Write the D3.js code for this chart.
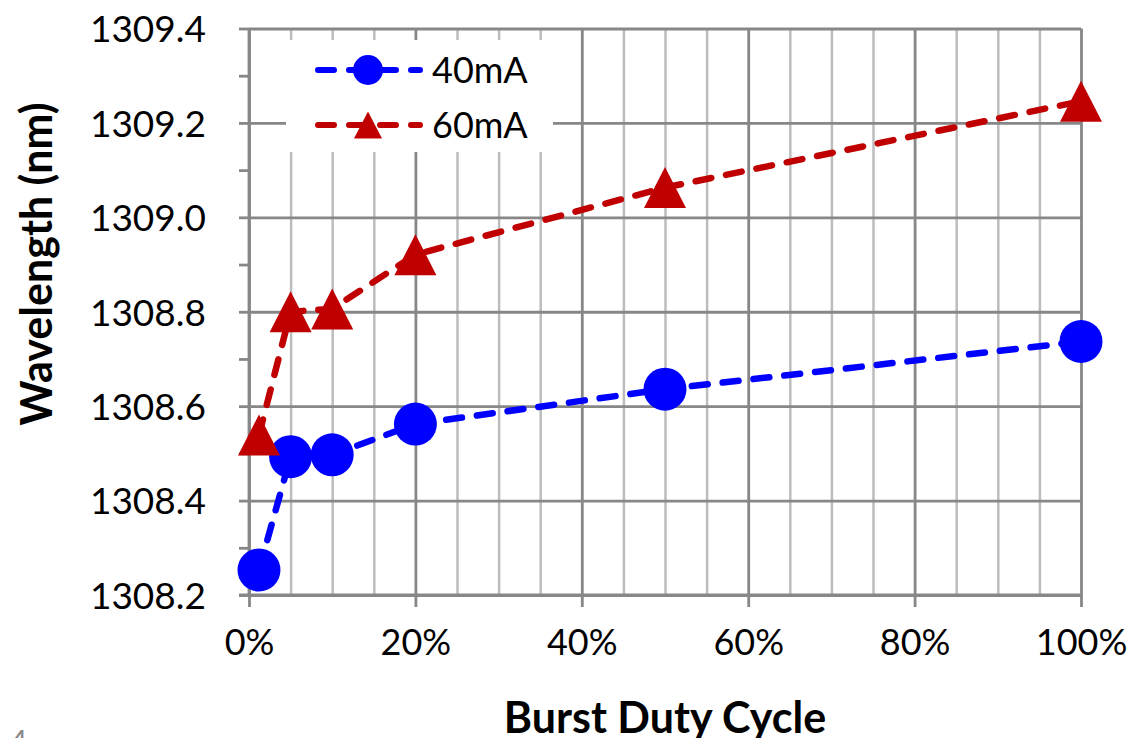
<!DOCTYPE html>
<html>
<head>
<meta charset="utf-8">
<script src="https://cdn.jsdelivr.net/npm/d3@7"></script>
<style>
  html, body { margin: 0; padding: 0; background: #fff; overflow: hidden; }
  svg { display: block; }
</style>
</head>
<body>
<svg id="chart" width="1132" height="738"></svg>
<script>
// ---- data ----
const dutyCycle = [0.012, 0.05, 0.10, 0.20, 0.50, 1.00];
const wl40mA = [1308.253, 1308.493, 1308.497, 1308.562, 1308.636, 1308.737];
const wl60mA = [1308.539, 1308.800, 1308.806, 1308.921, 1309.063, 1309.246];
const seriesNames = ["40mA", "60mA"];
const xTickValues = [0, 0.2, 0.4, 0.6, 0.8, 1.0];
const xMinorValues = [0.05,0.10,0.15,0.25,0.30,0.35,0.45,0.50,0.55,0.65,0.70,0.75,0.85,0.90,0.95];
const yTickValues = [1308.2, 1308.4, 1308.6, 1308.8, 1309.0, 1309.2, 1309.4];
const yMinorValues = [1308.3, 1308.5, 1308.7, 1308.9, 1309.1, 1309.3];
const xTitle = "Burst Duty Cycle";
const yTitle = "Wavelength (nm)";

// ---- layout ----
const svg = d3.select("#chart");
const pLeft = 249, pRight = 1081, pTop = 28.5, pBottom = 595;
const x = d3.scaleLinear().domain([0, 1]).range([pLeft, pRight]);
const y = d3.scaleLinear().domain([1308.2, 1309.4]).range([pBottom, pTop]);
const font = "Lato, 'Open Sans', sans-serif";
const majorGrey = "#878787", minorGrey = "#bcbcbc";
const blue = "#0000ff", red = "#c00000";

// minor vertical gridlines
svg.append("g")
  .attr("transform", `translate(0,${pBottom})`)
  .call(d3.axisBottom(x).tickValues(xMinorValues).tickSize(-(pBottom - pTop)).tickFormat(""))
  .call(g => g.select(".domain").remove())
  .call(g => g.selectAll("line").attr("stroke", minorGrey).attr("stroke-width", 2.5));

// horizontal gridlines
svg.append("g")
  .attr("transform", `translate(${pLeft},0)`)
  .call(d3.axisLeft(y).tickValues(yTickValues).tickSize(-(pRight - pLeft)).tickFormat(""))
  .call(g => g.select(".domain").remove())
  .call(g => g.selectAll("line").attr("stroke", majorGrey).attr("stroke-width", 2.8));

// major vertical gridlines
svg.append("g")
  .attr("transform", `translate(0,${pBottom})`)
  .call(d3.axisBottom(x).tickValues(xTickValues).tickSize(-(pBottom - pTop)).tickFormat(""))
  .call(g => g.select(".domain").remove())
  .call(g => g.selectAll("line").attr("stroke", majorGrey).attr("stroke-width", 2.8));

// y axis: ticks outside (major + minor) and labels
const yAxis = svg.append("g")
  .attr("transform", `translate(${pLeft},0)`)
  .call(d3.axisLeft(y).tickValues(yTickValues.concat(yMinorValues)).tickSize(10).tickPadding(33)
    .tickFormat(d => yTickValues.some(v => Math.abs(v - d) < 1e-6) ? d3.format(".1f")(d) : ""));
yAxis.select(".domain").attr("stroke", majorGrey).attr("stroke-width", 2.8).attr("d", `M0,${pTop}V${pBottom}`);
yAxis.selectAll("line").attr("stroke", majorGrey).attr("stroke-width", 2.8);
yAxis.selectAll("text").attr("fill", "#000").style("font-family", font).style("font-size", "37px")
  .attr("dy", "0.36em");

// x axis: ticks outside and labels
const xAxis = svg.append("g")
  .attr("transform", `translate(0,${pBottom})`)
  .call(d3.axisBottom(x).tickValues(xTickValues).tickSize(12).tickPadding(22).tickFormat(d3.format(".0%")));
xAxis.select(".domain").attr("stroke", majorGrey).attr("stroke-width", 2.8).attr("d", `M${pLeft - 10},0H${pRight}`);
xAxis.selectAll("line").attr("stroke", majorGrey).attr("stroke-width", 2.8);
xAxis.selectAll("text").attr("fill", "#000").style("font-family", font).style("font-size", "36px")
  .attr("dy", "0.71em");

// legend background (covers gridlines)
const legendBox = { x0: 286, y0: 40, x1: 553, y1: 152 };
svg.append("rect").attr("x", legendBox.x0).attr("y", legendBox.y0)
  .attr("width", legendBox.x1 - legendBox.x0).attr("height", legendBox.y1 - legendBox.y0).attr("fill", "#fff");

// ---- series ----
const triPath = (w, h) => `M0,${-h / 2}L${w / 2},${h / 2}L${-w / 2},${h / 2}Z`;
const series = [
  { name: seriesNames[0], values: wl40mA, color: blue, marker: "circle" },
  { name: seriesNames[1], values: wl60mA, color: red, marker: "triangle" }
];
const line = d3.line().x(d => x(d[0])).y(d => y(d[1]));
const dash = "16,15";

series.forEach(s => {
  const pts = dutyCycle.map((d, i) => [d, s.values[i]]);
  svg.append("path").datum(pts).attr("d", line)
    .attr("fill", "none").attr("stroke", s.color).attr("stroke-width", 6.5)
    .attr("stroke-dasharray", dash).attr("stroke-linecap", "round");
  const g = svg.append("g");
  if (s.marker === "circle") {
    g.selectAll("circle").data(pts).join("circle")
      .attr("cx", d => x(d[0])).attr("cy", d => y(d[1])).attr("r", 21.5).attr("fill", s.color);
  } else {
    g.selectAll("path").data(pts).join("path")
      .attr("transform", d => `translate(${x(d[0])},${y(d[1])})`)
      .attr("d", triPath(42, 41)).attr("fill", s.color);
  }
});

// legend entries
const legRows = [70, 125];
series.forEach((s, i) => {
  const ly = legRows[i];
  svg.append("path").attr("d", `M318,${ly}H420`)
    .attr("stroke", s.color).attr("stroke-width", 6).attr("stroke-dasharray", dash)
    .attr("stroke-linecap", "round").attr("fill", "none");
  if (s.marker === "circle") {
    svg.append("circle").attr("cx", 368).attr("cy", ly).attr("r", 15).attr("fill", s.color);
  } else {
    svg.append("path").attr("transform", `translate(368,${ly})`).attr("d", triPath(28, 27)).attr("fill", s.color);
  }
  svg.append("text").attr("x", 432).attr("y", ly).attr("dy", "0.36em")
    .style("font-family", font).style("font-size", "36px").attr("fill", "#000").text(s.name);
});

// axis titles
svg.append("text").attr("x", (pLeft + pRight) / 2).attr("y", 733).attr("text-anchor", "middle")
  .style("font-family", font).style("font-size", "43px").style("font-weight", "bold").text(xTitle);
svg.append("text").attr("transform", "translate(52,264) rotate(-90)").attr("text-anchor", "middle")
  .style("font-family", font).style("font-size", "43px").style("font-weight", "bold").text(yTitle);

// slide number fragment
svg.append("text").attr("x", 10).attr("y", 752)
  .style("font-family", font).style("font-size", "30px").attr("fill", "#8a8a8a").text("4");
</script>
</body>
</html>
